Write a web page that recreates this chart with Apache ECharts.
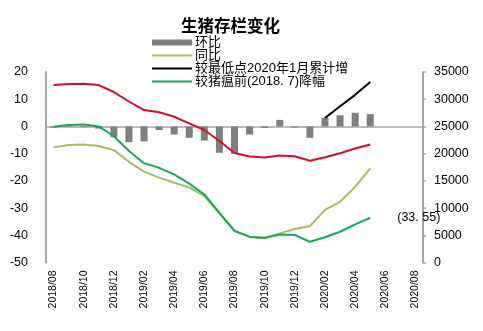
<!DOCTYPE html>
<html>
<head>
<meta charset="utf-8">
<script src="https://cdn.jsdelivr.net/npm/echarts@6/dist/echarts.min.js"></script>
<style>
  html, body { margin: 0; padding: 0; background: #fff; }
  #chart { width: 483px; height: 331px; }
</style>
</head>
<body>
<div id="chart"></div>
<script>
// Monthly categories, 2018/08 – 2020/08
const months = [
  '2018/08','2018/09','2018/10','2018/11','2018/12',
  '2019/01','2019/02','2019/03','2019/04','2019/05','2019/06','2019/07',
  '2019/08','2019/09','2019/10','2019/11','2019/12',
  '2020/01','2020/02','2020/03','2020/04','2020/05','2020/06','2020/07','2020/08'
];

// 环比 (%), month-on-month change
const momChange = [
  -0.4, 0.6, -0.3, -0.8, -4.0, -5.8, -5.5, -1.3, -3.0, -4.2, -5.2, -9.7,
  -10.1, -3.0, -0.6, 2.4, -0.4, -4.2, 3.2, 4.1, 5.0, 4.5
];

// 同比 (%), year-on-year change
const yoyChange = [
  -7.7, -6.8, -6.6, -7.2, -8.7, -13.0, -16.6, -18.8, -20.7, -22.4, -25.6, -31.9,
  -38.4, -40.7, -41.1, -39.3, -37.7, -36.6, -30.7, -27.7, -22.2, -15.4
];

// 较最低点2020年1月累计增 (%)
const sinceLow = [
  ['2020/02', 3.1], ['2020/03', 7.4], ['2020/04', 11.6], ['2020/05', 16.3]
];

// 较猪瘟前(2018.7)降幅 (%)
const vsPreFever = [
  -0.1, 0.5, 0.7, 0.0, -3.6, -9.0, -13.5, -15.2, -17.6, -21.0, -25.0, -31.8,
  -38.4, -40.5, -40.9, -39.7, -39.9, -42.4, -40.7, -38.7, -36.0, -33.55
];

// 生猪存栏 (万头), right axis
const herdSize = [
  32600, 32790, 32850, 32600, 31320, 29580, 28010, 27590, 26780, 25570, 24340, 22320,
  20120, 19470, 19290, 19660, 19530, 18700, 19340, 20060, 20940, 21680
];

const leftTicks = { min: -50, max: 20, interval: 10 };
const rightTicks = { min: 0, max: 35000, interval: 5000 };

const axisFont = "'Liberation Sans', Arial, sans-serif";
const cjkFont = "'Liberation Sans', 'Noto Sans CJK SC', sans-serif";
const axisGray = '#a6a6a6';
// thin horizontal stroke used as the legend mark of line series
const lineIcon = 'path://M0,0L40,0L40,1.8L0,1.8Z';

const chart = echarts.init(document.getElementById('chart'), null, { renderer: 'canvas' });

chart.setOption({
  animation: false,
  backgroundColor: '#fff',
  title: {
    text: '生猪存栏变化',
    left: 176,
    top: 12,
    textStyle: {
      fontFamily: "'Noto Sans CJK SC', sans-serif",
      fontWeight: 'bold',
      fontSize: 16.5,
      color: '#000'
    }
  },
  legend: {
    orient: 'vertical',
    left: 152,
    top: 36,
    itemWidth: 40,
    itemHeight: 6,
    itemGap: 0,
    padding: 0,
    symbolKeepAspect: true,
    textStyle: {
      fontFamily: cjkFont,
      fontSize: 13,
      lineHeight: 13,
      color: '#000',
      padding: [0, 0, 0, -2]
    },
    data: [
      { name: '环比', icon: 'rect' },
      { name: '同比', icon: lineIcon },
      { name: '较最低点2020年1月累计增', icon: lineIcon },
      { name: '较猪瘟前(2018. 7)降幅', icon: lineIcon }
    ]
  },
  grid: { left: 46, right: 60, top: 72, bottom: 68.5 },
  xAxis: {
    type: 'category',
    data: months,
    boundaryGap: true,
    axisLine: { show: false },
    axisTick: { show: false },
    axisLabel: {
      interval: 1,
      rotate: 90,
      margin: 8,
      color: '#000',
      fontFamily: axisFont,
      fontSize: 10.5
    }
  },
  yAxis: [
    {
      type: 'value',
      min: leftTicks.min,
      max: leftTicks.max,
      interval: leftTicks.interval,
      axisLine: { show: true, lineStyle: { color: axisGray, width: 2 } },
      axisTick: { show: false },
      splitLine: { show: false },
      axisLabel: {
        margin: 18,
        color: '#000',
        fontFamily: axisFont,
        fontSize: 12.5
      }
    },
    {
      type: 'value',
      position: 'right',
      min: rightTicks.min,
      max: rightTicks.max,
      interval: rightTicks.interval,
      axisLine: { show: true, lineStyle: { color: axisGray, width: 2 } },
      axisTick: { show: true, length: 3, lineStyle: { color: axisGray, width: 1.5 } },
      splitLine: { show: false },
      axisLabel: {
        margin: 11,
        color: '#000',
        fontFamily: axisFont,
        fontSize: 12.5,
        formatter: v => String(v)
      }
    }
  ],
  series: [
    {
      name: '环比',
      type: 'bar',
      yAxisIndex: 0,
      data: momChange,
      barWidth: 7,
      itemStyle: { color: '#7f7f7f' },
      z: 1,
      markLine: {
        silent: true,
        symbol: 'none',
        label: { show: false },
        lineStyle: { color: axisGray, width: 1.5, type: 'solid' },
        data: [{ yAxis: 0 }],
        z: 1
      }
    },
    {
      name: '生猪存栏',
      type: 'line',
      yAxisIndex: 1,
      data: herdSize,
      symbol: 'none',
      lineStyle: { color: '#d0102a', width: 2 },
      itemStyle: { color: '#d0102a' },
      z: 3
    },
    {
      name: '同比',
      type: 'line',
      yAxisIndex: 0,
      data: yoyChange,
      symbol: 'none',
      lineStyle: { color: '#a3bd63', width: 2 },
      itemStyle: { color: '#a3bd63' },
      z: 4
    },
    {
      name: '较猪瘟前(2018. 7)降幅',
      type: 'line',
      yAxisIndex: 0,
      data: vsPreFever,
      symbol: 'none',
      lineStyle: { color: '#14a85a', width: 2 },
      itemStyle: { color: '#14a85a' },
      endLabel: {
        show: true,
        distance: 27,
        color: '#000',
        fontFamily: axisFont,
        fontSize: 12.5,
        formatter: p => '(' + Math.abs(p.value).toFixed(2).replace('.', '. ') + ')'
      },
      z: 5
    },
    {
      name: '较最低点2020年1月累计增',
      type: 'line',
      yAxisIndex: 0,
      data: sinceLow,
      symbol: 'none',
      lineStyle: { color: '#000', width: 2 },
      itemStyle: { color: '#000' },
      z: 6
    }
  ]
});
</script>
</body>
</html>
